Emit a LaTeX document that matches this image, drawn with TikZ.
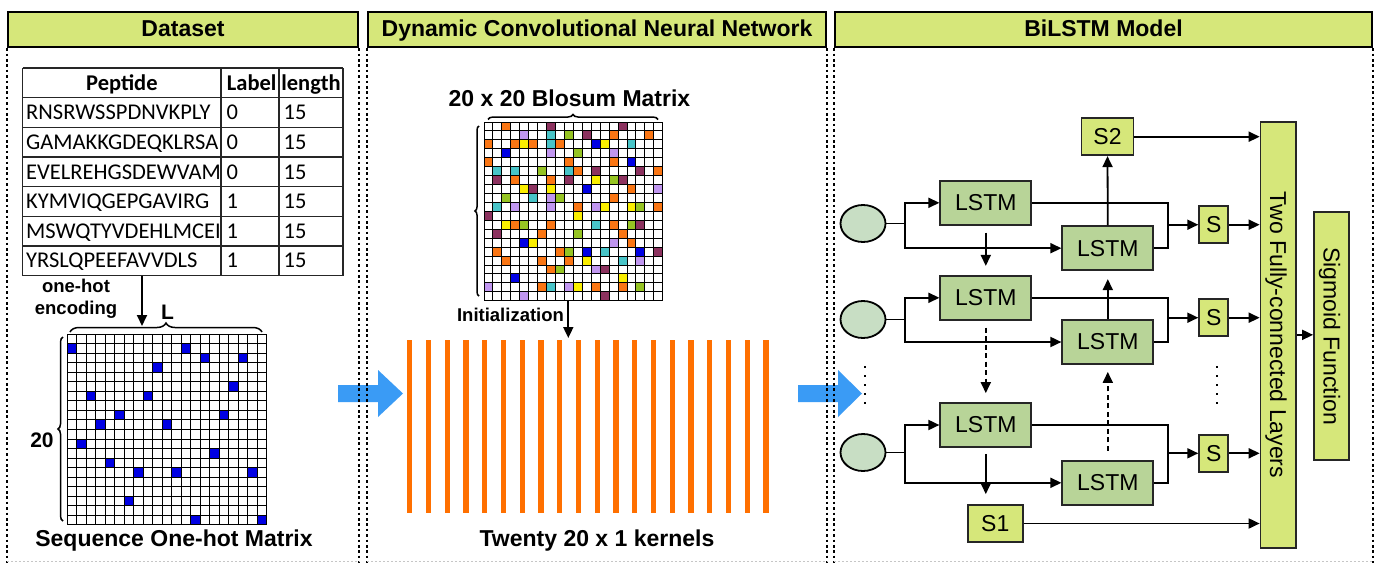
\documentclass[tikz,border=0pt]{standalone}
\usepackage{fontspec}
\setmainfont{Liberation Sans}
\newfontfamily\calib{Carlito}
\usetikzlibrary{arrows.meta,shapes.geometric,decorations.pathreplacing,calc}
\definecolor{hdr}{RGB}{214,231,122}
\definecolor{lstmc}{RGB}{184,212,152}
\definecolor{ellc}{RGB}{200,222,196}
\definecolor{bluearr}{RGB}{58,155,245}
\definecolor{korange}{RGB}{255,112,0}
\definecolor{cor}{RGB}{250,118,20}
\definecolor{cmar}{RGB}{140,50,95}
\definecolor{cteal}{RGB}{72,196,200}
\definecolor{cgreen}{RGB}{150,196,35}
\definecolor{cblue}{RGB}{0,0,228}
\definecolor{cyel}{RGB}{250,238,0}
\definecolor{clav}{RGB}{192,150,240}
\begin{document}
\begin{tikzpicture}[x=1pt,y=-1pt,
  hdrbox/.style={draw=black, line width=2.2pt, fill=hdr, minimum height=35pt, inner sep=0pt,
    font=\bfseries\fontsize{23}{27}\selectfont, text height=16.5pt, text depth=2.5pt},
  paneldot/.style={line width=2pt, dash pattern=on 2.6pt off 2.8pt},
  faint/.style={line width=1pt, gray!45, dash pattern=on 2pt off 2pt},
  arr/.style={line width=1.8pt, -{Triangle[length=11pt,width=10pt]}},
  darr/.style={arr, dash pattern=on 5pt off 3.5pt},
  plain/.style={line width=1.8pt},
  lstm/.style={draw=black!85, line width=1.8pt, fill=lstmc, minimum width=91pt, minimum height=44pt,
    inner sep=0pt, font=\fontsize{23}{27}\selectfont},
  sbox/.style={draw=black!85, line width=1.8pt, fill=hdr, minimum height=37pt, inner sep=0pt,
    font=\fontsize{23}{27}\selectfont},
  inp/.style={ellipse, draw=black, line width=1.8pt, fill=ellc, minimum width=45pt, minimum height=37pt, inner sep=0pt},
  bartext/.style={font=\fontsize{23}{27}\selectfont, rotate=-90, anchor=base},
  title/.style={font=\bfseries\fontsize{23}{27}\selectfont, anchor=base, inner sep=0pt},
  smalltitle/.style={font=\bfseries\fontsize{18.5}{22}\selectfont, anchor=base, inner sep=0pt},
  tabtxt/.style={font=\calib\fontsize{22.5}{27}\selectfont, anchor=base west, inner sep=0pt},
  tabhead/.style={font=\calib\bfseries\fontsize{22.5}{27}\selectfont, anchor=base, inner sep=0pt},
  tabline/.style={line width=1.3pt, black!85},
  gridline/.style={line width=1pt, black},
  bracestyle/.style={line width=1.5pt, decorate},
  kernel/.style={fill=korange},
  dotsline/.style={line width=2.2pt, dash pattern=on 2pt off 7pt}
]
\useasboundingbox (0,0) rectangle (1379,563);
\coordinate (bot) at (0,563);
\coordinate (botline) at (0,561);

% ---------- big blue arrows ----------
\fill[bluearr] (338,385) -- (378,385) -- (378,370) -- (403,393.5) -- (378,417) -- (378,402) -- (338,402) -- cycle;
\fill[bluearr] (798,385) -- (838,385) -- (838,370) -- (862,393.5) -- (838,417) -- (838,402) -- (798,402) -- cycle;

% ---------- panel headers and dotted frames ----------
\node[hdrbox, minimum width=350pt] (h1) at (183,29.5) {Dataset};
\node[hdrbox, minimum width=458pt] (h2) at (597,29.5) {Dynamic Convolutional Neural Network};
\node[hdrbox, minimum width=537pt] (h3) at (1103.5,29.5) {BiLSTM Model};
\foreach \h in {h1,h2,h3} {
  \draw[paneldot] (\h.south west) -- (\h.south west |- bot);
  \draw[paneldot] (\h.south east) -- (\h.south east |- bot);
  \draw[faint] (\h.south west |- botline) -- (\h.south east |- botline);
}

% ---------- table ----------
\foreach \k in {0,...,7} \draw[tabline] (22.7,{68+29.66*\k}) -- (343,{68+29.66*\k});
\foreach \xx in {22.7,221,279,343} \draw[tabline] (\xx,68) -- (\xx,275.6);
\node[tabhead] (thpep) at (121.9,90) {Peptide};
\node[tabhead] (thlab) at (251.7,90) {Label};
\node[tabhead] (thlen) at (311,90) {length};
\foreach \seq/\lab [count=\i] in {RNSRWSSPDNVKPLY/0,GAMAKKGDEQKLRSA/0,EVELREHGSDEWVAM/0,KYMVIQGEPGAVIRG/1,MSWQTYVDEHLMCEI/1,YRSLQPEEFAVVDLS/1} {
  \node[tabtxt] (seq\i) at (26,{68+29.66*(\i+0.5)+7.2}) {\seq};
  \node[tabtxt] (lab\i) at (226.5,{68+29.66*(\i+0.5)+7.2}) {\lab};
  \node[tabtxt] (len\i) at (283.5,{68+29.66*(\i+0.5)+7.2}) {15};
}
\coordinate (tabbot) at (142,275.6);
\coordinate (ohtop) at (142,326);
\draw[arr] (tabbot) -- (ohtop);
\node[smalltitle] (oh1) at (76,292) {one-hot};
\node[smalltitle] (oh2) at (76,314) {encoding};

% ---------- one-hot matrix ----------
\foreach \c/\r in {0/1,12/1,14/2,18/2,9/3,17/5,2/6,8/6,5/8,16/8,3/9,10/9,1/11,15/12,4/13,7/14,11/14,19/14,6/17,13/19,20/19}
  \fill[cblue] ({67+\c*9.52},{334.3+\r*9.52}) rectangle ++(9.52,9.52);
\foreach \i in {0,...,21} \draw[gridline] ({67+\i*9.52},334.3) -- ++(0,190.4);
\foreach \j in {0,...,20} \draw[gridline] (67,{334.3+\j*9.52}) -- ++(199.92,0);
\draw[bracestyle, decoration={brace,amplitude=9pt}] (70,332) -- (262,332);
\draw[bracestyle, decoration={brace,amplitude=5pt}] (63,521) -- (63,337);
\node[title, font=\bfseries\fontsize{21}{25}\selectfont] (lbl) at (167.5,319.3) {L};
\node[title, font=\bfseries\fontsize{21}{25}\selectfont] (twenty) at (42,447) {20};
\node[title] (seqt) at (174,546.7) {Sequence One-hot Matrix};

% ---------- Blosum matrix ----------
\node[title] (blt) at (569.5,106) {20 x 20 Blosum Matrix};
\foreach \c/\r in {2/0,14/1,18/1,0/2,3/2,5/2,8/2,0/4,9/4,14/4,10/5,19/5,3/6,7/6,16/7,14/8,10/9,19/9,3/11,7/11,14/11,6/12,15/12,16/13,1/14,8/14,2/15,6/15,9/15,7/16,6/18,12/18,15/18}
  \fill[cor] ({484+\c*8.94},{122+\r*8.94}) rectangle ++(8.94,8.94);
\foreach \c/\r in {7/0,15/0,11/1,12/5,17/5,1/6,9/6,15/6,5/7,0/10,17/11,1/12,19/14,13/16,13/19}
  \fill[cmar] ({484+\c*8.94},{122+\r*8.94}) rectangle ++(8.94,8.94);
\foreach \c/\r in {7/1,7/2,16/2,1/5,3/5,9/5,5/8,1/9,12/11,13/14,15/15,7/18}
  \fill[cteal] ({484+\c*8.94},{122+\r*8.94}) rectangle ++(8.94,8.94);
\foreach \c/\r in {9/1,10/3,6/5,14/6,2/8,8/8,17/9,4/11,16/11,10/12,9/14,8/16,17/18}
  \fill[cgreen] ({484+\c*8.94},{122+\r*8.94}) rectangle ++(8.94,8.94);
\foreach \c/\r in {12/2,2/3,16/4,11/7,4/13,11/14,17/14,3/17}
  \fill[cblue] ({484+\c*8.94},{122+\r*8.94}) rectangle ++(8.94,8.94);
\foreach \c/\r in {4/2,13/2,12/6,4/7,7/7,13/9,16/9,10/10,2/11,5/13,11/15,15/17,10/18}
  \fill[cyel] ({484+\c*8.94},{122+\r*8.94}) rectangle ++(8.94,8.94);
\foreach \c/\r in {4/1,7/3,14/3,19/7,7/8,3/9,7/9,12/9,14/13,17/15,12/16,0/18,9/18,4/19}
  \fill[clav] ({484+\c*8.94},{122+\r*8.94}) rectangle ++(8.94,8.94);
\foreach \i in {0,...,20} \draw[gridline] ({484+\i*8.94},122) -- ++(0,178.8);
\foreach \j in {0,...,20} \draw[gridline] (484,{122+\j*8.94}) -- ++(178.8,0);
\draw[bracestyle, decoration={brace,amplitude=5pt}] (488,119.5) -- (658,119.5);
\draw[bracestyle, decoration={brace,amplitude=4pt}] (479,296) -- (479,126);
\coordinate (blbot) at (568.3,300.8);
\coordinate (kertop) at (568.3,338);
\draw[arr] (blbot) -- (kertop);
\node[smalltitle] (init) at (510.5,321.7) {Initialization};

% ---------- kernels ----------
\foreach \k in {0,...,19}
  \fill[kernel] ({409.7+\k*18.75-2.6},340) rectangle ++(5.2,173);
\node[title] (kert) at (597,546.7) {Twenty 20 x 1 kernels};

% ---------- BiLSTM ----------
\node[inp] (e1) at (863,223.5) {};
\node[inp] (e2) at (863,319.5) {};
\node[inp] (e3) at (863,452.5) {};
\node[lstm] (a1) at (985.8,202.8) {LSTM};
\node[lstm] (b1) at (1107.8,248.2) {LSTM};
\node[lstm] (a2) at (985.8,297.8) {LSTM};
\node[lstm] (b2) at (1107.8,342) {LSTM};
\node[lstm] (a3) at (985.8,425) {LSTM};
\node[lstm] (b3) at (1107.8,482.8) {LSTM};
\node[sbox, minimum width=52pt] (s2) at (1107.5,136.7) {S2};
\node[sbox, minimum width=55pt] (s1) at (995.3,523.5) {S1};
\node[sbox, minimum width=29pt] (sa) at (1213.7,224.7) {S};
\node[sbox, minimum width=29pt] (sb) at (1213.7,317.7) {S};
\node[sbox, minimum width=29pt] (sc) at (1213.7,453.3) {S};
\node[draw=black!85, line width=1.8pt, fill=hdr, minimum width=35.7pt, minimum height=426.3pt, inner sep=0pt] (fc) at (1278.4,334.85) {};
\node[draw=black!85, line width=1.8pt, fill=hdr, minimum width=35pt, minimum height=248.3pt, inner sep=0pt] (sig) at (1331.5,335.85) {};
\node[bartext] (fct) at (1270,335) {Two Fully-connected Layers};
\node[bartext] (sigt) at (1323.5,336) {Sigmoid Function};

\coordinate (sp1) at (905.3,223.5);
\coordinate (sp2) at (905.3,319.5);
\coordinate (sp3) at (905.3,452.5);
\coordinate (j1) at (1167.8,224.7);
\coordinate (j2) at (1167.8,317.7);
\coordinate (j3) at (1167.8,453.3);

\foreach \n in {1,2,3} {
  \draw[plain] (e\n.east) -- (sp\n);
}
\draw[arr] (sp1) |- (a1.west);
\draw[arr] (sp1) |- (b1.west);
\draw[arr] (sp2) |- (a2.west);
\draw[arr] (sp2) |- (b2.west);
\draw[arr] (sp3) |- (a3.west);
\draw[arr] (sp3) |- (b3.west);

\draw[plain] (a1.east) -| (j1);
\draw[plain] (b1.east) -| (j1);
\draw[plain] (a2.east) -| (j2);
\draw[plain] (b2.east) -| (j2);
\draw[plain] (a3.east) -| (j3);
\draw[plain] (b3.east) -| (j3);
\draw[arr] (j1) -- (sa.west);
\draw[arr] (j2) -- (sb.west);
\draw[arr] (j3) -- (sc.west);

\draw[arr] (sa.east) -- (sa.east -| fc.west);
\draw[arr] (sb.east) -- (sb.east -| fc.west);
\draw[arr] (sc.east) -- (sc.east -| fc.west);
\draw[arr] (s2.east) -- (s2.east -| fc.west);
\draw[arr] (s1.east) -- (s1.east -| fc.west);
\draw[arr] (fc.east) -- (fc.east -| sig.west);

\draw[arr] (b1.north) -- (s2.south);
\draw[arr] ([yshift=-7pt]a1.south) -- ([yshift=9pt]a2.north);
\draw[arr] (b2.north) -- ([yshift=-8pt]b1.south);
\draw[darr] ([yshift=-7pt]a2.south) -- ([yshift=9pt]a3.north);
\draw[darr] ([yshift=9pt]b3.north) -- ([yshift=-7pt]b2.south);
\draw[arr] ([yshift=-6pt]a3.south) -- ([yshift=10pt]a3.south |- s1.north);

\coordinate (dl1) at (865,366);
\coordinate (dl2) at (865,404);
\coordinate (dr1) at (1217,366);
\coordinate (dr2) at (1217,404);
\draw[dotsline] (dl1) -- (dl2);
\draw[dotsline] (dr1) -- (dr2);
\end{tikzpicture}
\end{document}
